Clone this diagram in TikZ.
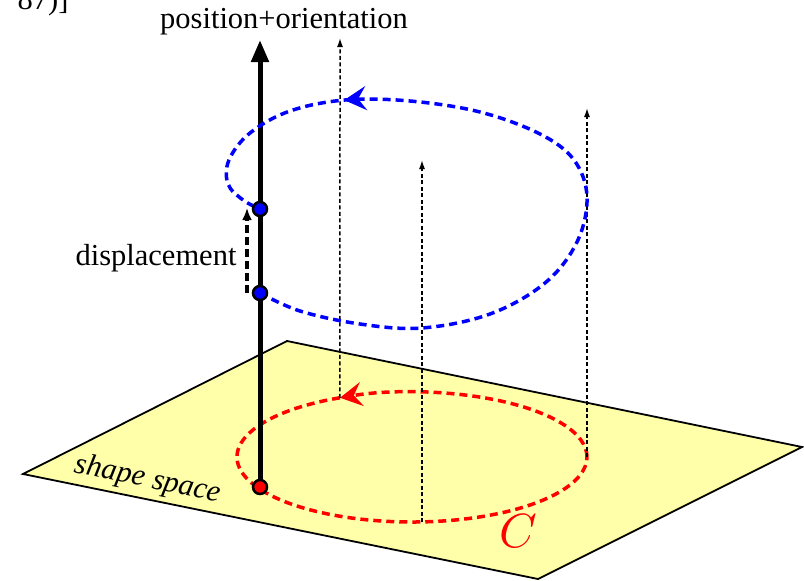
\documentclass[tikz,border=0pt]{standalone}
\usepackage{fontspec}
\setmainfont{Liberation Serif}
\usetikzlibrary{arrows.meta,decorations.markings}
\definecolor{planeyellow}{RGB}{255,255,170}
\begin{document}
\begin{tikzpicture}[x=1pt,y=-1pt,
		bigfont/.style={font=\fontsize{30.5}{36}\selectfont},
		loopC/.style={red, line width=3.5pt, dash pattern=on 8pt off 5pt},
		lifted/.style={blue, line width=3.5pt, dash pattern=on 8pt off 5pt},
		fiber/.style={line width=1.5pt, dash pattern=on 4pt off 2.5pt, -{Latex[length=9pt,width=6pt]}},
		statedot/.style={circle, draw=black, line width=2.5pt, inner sep=0pt, minimum size=14pt},
		bigtip/.style={-{Stealth[length=22pt,width=24pt,inset=8pt]}}]
		\useasboundingbox (0,0) rectangle (804,581);
		
		% Cut-off reference
		\node[bigfont, anchor=base east] (cite) at (72,9) {87)]};
		
		% Shape space
		\draw[fill=planeyellow, line width=1.8pt] (23,474) -- (287,341) -- (802,447) -- (538,579) -- cycle;
		\node[font=\fontsize{30.5}{36}\selectfont\itshape, rotate=-11.5] (shapelbl) at (148,480) {shape space};
		
		% Loop C
		\draw[loopC, bigtip] (587,457) arc[start angle=0, end angle=-114.3, x radius=175, y radius=65] coordinate (rTop);
		\draw[loopC] (rTop) arc[start angle=-114.3, end angle=-360, x radius=175, y radius=65];
		\node[text=red, scale=4.8] (clbl) at (518,531) {$C$};
		\coordinate (rBot) at (422,522);
		\coordinate (rRight) at (587,457);
		
		% Fibers
		\coordinate (fTop) at (340,38);
		\coordinate (fBot) at (422,160);
		\coordinate (fRight) at (587,108);
		\draw[fiber] (rTop) -- (fTop);
		\draw[fiber] (rBot) -- (fBot);
		\draw[fiber] (rRight) -- (fRight);
		
		% Position+orientation axis
		\coordinate (rdotc) at (260,487);
		\coordinate (axisTip) at (260,40);
		\draw[line width=5pt, -{Triangle[length=22pt,width=17pt]}] (rdotc) -- (axisTip);
		\node[bigfont, anchor=base] (poslbl) at (284,28) {position+orientation};
		
		% Lifted path
		\draw[lifted, postaction={decorate}, decoration={markings, mark=at position 0.772 with {\arrow{Stealth[length=22pt,width=24pt,inset=8pt]}}}]
		plot[smooth, tension=0.6] coordinates {(260,293) (300,311) (360,324) (422,328) (490,314) (545,283) (577,242) (587,197) (574,160) (540,134) (480,112) (410,101) (345,100) (290,111) (250,133) (229,160) (228,184) (243,200) (260,209)};
		\node[statedot, fill=blue] (bstart) at (260,293) {};
		\node[statedot, fill=blue] (bend) at (260,209) {};
		\node[statedot, fill=red] (rdot) at (rdotc) {};
		
		% Displacement
		\coordinate (dispA) at (247,293);
		\coordinate (dispB) at (247,208);
		\draw[line width=3.5pt, dash pattern=on 8pt off 4pt, -{Latex[length=12pt,width=10pt]}] (dispA) -- (dispB);
		\node[bigfont, anchor=base east] (displbl) at (240,265) {displacement};
		
	\end{tikzpicture}
\end{document}
